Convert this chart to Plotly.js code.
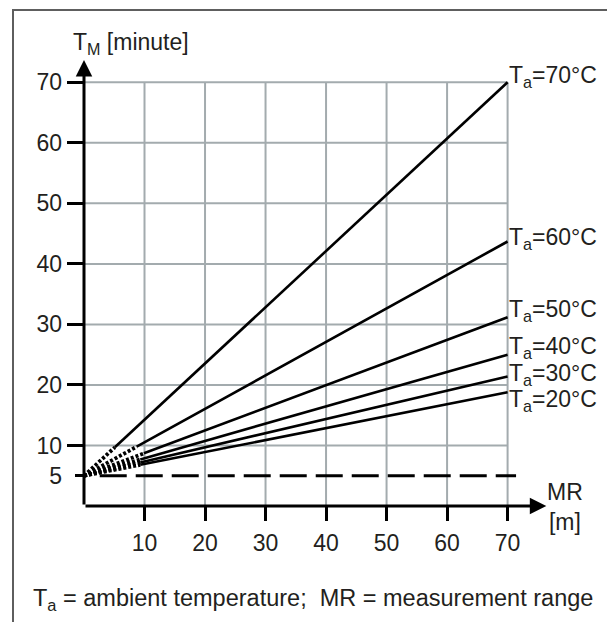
<!DOCTYPE html>
<html><head><meta charset="utf-8">
<script src="https://cdn.plot.ly/plotly-3.0.1.min.js"></script>
<style>
html,body{margin:0;padding:0;background:#fff;overflow:hidden}
#chart{width:607px;height:622px}
#frame{position:absolute;left:12px;top:9px;width:700px;height:700px;border-left:2px solid #5e5e5e;border-top:2px solid #5e5e5e;pointer-events:none}
</style></head>
<body><div id="chart"></div><div id="frame"></div>
<script>
// ---- data ----
const temperatures = ['70', '60', '50', '40', '30', '20'];   // T_a in °C
const mrOrigin = [0, 0, 0, 0, 0, 0];                         // MR [m] at start
const tmOrigin = [5, 5, 5, 5, 5, 5];                         // T_M [minute] at start
const mrSplit  = [5.1, 8.7, 9.9, 9.3, 9.3, 9.3];             // end of dotted part
const tmSplit  = [9.7, 9.8, 8.7, 7.7, 7.2, 6.8];
const mrEnd    = [70, 70, 70, 70, 70, 70];
const tmEnd    = [70, 43.7, 31.2, 25.0, 21.4, 18.8];
const refLineMR = [2.6, 71.4];                               // dashed 5-minute line
const refLineTM = [5, 5];
const xTickVals = [10, 20, 30, 40, 50, 60, 70];
const xTickText = ['10', '20', '30', '40', '50', '60', '70'];
const yTickVals = [5, 10, 20, 30, 40, 50, 60, 70];
const yTickText = ['5', '10', '20', '30', '40', '50', '60', '70'];
const yLongTickVals = [10, 20, 30, 40, 50, 60, 70];
const yShortTickVals = [5];

// ---- styling / layout ----
const FONT = 'Liberation Sans, Arial, Helvetica, sans-serif';
const FS = 23;
const TXT = '#231f20';
const GRID = '#a3abae';
const X_MAX = 78, Y_MAX = 76;          // axis ranges
const X_ARROW = 76.4, Y_ARROW = 73.7;  // arrow tips
const labelShift = [6, 3, 7, 7, 2, -8.5];

const traces = [];
temperatures.forEach((t, i) => {
  traces.push({
    type: 'scatter', mode: 'lines', x: [mrOrigin[i], mrSplit[i]], y: [tmOrigin[i], tmSplit[i]],
    line: {color: '#000', width: 3.8, dash: '3px,2px'}, hoverinfo: 'skip'
  });
  traces.push({
    type: 'scatter', mode: 'lines', x: [mrSplit[i], mrEnd[i]], y: [tmSplit[i], tmEnd[i]],
    line: {color: '#000', width: 2.6}, name: 'Ta=' + t + '°C'
  });
});
traces.push({
  type: 'scatter', mode: 'lines', x: refLineMR, y: refLineTM,
  line: {color: '#000', width: 3, dash: '27px,9px'}, hoverinfo: 'skip'
});
// empty trace so that the short-tick axis is drawn
traces.push({type: 'scatter', mode: 'lines', x: [], y: [], yaxis: 'y2', hoverinfo: 'skip'});

const shapes = [];
xTickVals.forEach(v => shapes.push({type: 'line', xref: 'x', yref: 'y', x0: v, x1: v, y0: 0, y1: yLongTickVals[yLongTickVals.length - 1], layer: 'below', line: {color: GRID, width: 2}}));
yLongTickVals.forEach(v => shapes.push({type: 'line', xref: 'x', yref: 'y', y0: v, y1: v, x0: 0, x1: xTickVals[xTickVals.length - 1], layer: 'below', line: {color: GRID, width: 2}}));

const annotations = [
  {xref: 'x', yref: 'y', axref: 'x', ayref: 'y', x: X_ARROW, y: 0, ax: 0, ay: 0, text: '', showarrow: true,
   arrowhead: 2, arrowsize: 1.1, arrowwidth: 3, arrowcolor: '#000', standoff: 0, startstandoff: 0},
  {xref: 'x', yref: 'y', axref: 'x', ayref: 'y', x: 0, y: Y_ARROW, ax: 0, ay: 0, text: '', showarrow: true,
   arrowhead: 2, arrowsize: 1.1, arrowwidth: 3, arrowcolor: '#000', standoff: 0, startstandoff: 0},
  {xref: 'paper', yref: 'paper', x: 0, y: 1, xanchor: 'left', yanchor: 'middle', xshift: -13, yshift: 3,
   text: 'T<sub>M</sub> [minute]', showarrow: false, font: {family: FONT, size: FS, color: TXT}},
  {xref: 'paper', yref: 'paper', x: 1, y: 0, xanchor: 'center', yanchor: 'middle', xshift: 9, yshift: -1,
   text: 'MR<br>[m]', align: 'center', showarrow: false, font: {family: FONT, size: FS, color: TXT}},
  {xref: 'paper', yref: 'paper', x: 0, y: 0, xanchor: 'left', yanchor: 'middle', xshift: -53, yshift: -93,
   text: 'T<sub>a</sub> = ambient temperature;  MR = measurement range', showarrow: false,
   font: {family: FONT, size: 23.5, color: TXT}}
];
temperatures.forEach((t, i) => annotations.push({
  xref: 'x', yref: 'y', x: mrEnd[i], y: tmEnd[i], xanchor: 'left', yanchor: 'middle', xshift: -1, yshift: labelShift[i],
  text: 'T<sub>a</sub>=' + t + '°C', showarrow: false, font: {family: FONT, size: FS, color: TXT}
}));

const axisCommon = {
  showgrid: false, zeroline: false, showline: false, ticks: 'outside', tickwidth: 3, tickcolor: '#000',
  tickfont: {family: FONT, size: FS, color: TXT}, tickmode: 'array', fixedrange: true
};

const layout = {
  width: 607, height: 622,
  margin: {l: 84, r: 51, t: 46, b: 116},
  paper_bgcolor: '#fff', plot_bgcolor: 'rgba(0,0,0,0)',
  showlegend: false,
  xaxis: Object.assign({}, axisCommon, {range: [0, X_MAX], tickvals: xTickVals, ticktext: xTickText, ticklen: 14, ticklabelstandoff: 2}),
  yaxis: Object.assign({}, axisCommon, {range: [0, Y_MAX], tickvals: yTickVals, ticktext: yTickText, ticks: '', ticklabelstandoff: 21,
    minor: {tickmode: 'array', tickvals: yLongTickVals, ticks: 'outside', ticklen: 16, tickwidth: 3, tickcolor: '#000', showgrid: false}}),
  yaxis2: Object.assign({}, axisCommon, {range: [0, Y_MAX], overlaying: 'y', side: 'left', anchor: 'x',
    tickvals: yShortTickVals, ticklen: 8, showticklabels: false}),
  shapes: shapes,
  annotations: annotations
};

Plotly.newPlot('chart', traces, layout, {staticPlot: true});
</script>
</body></html>
